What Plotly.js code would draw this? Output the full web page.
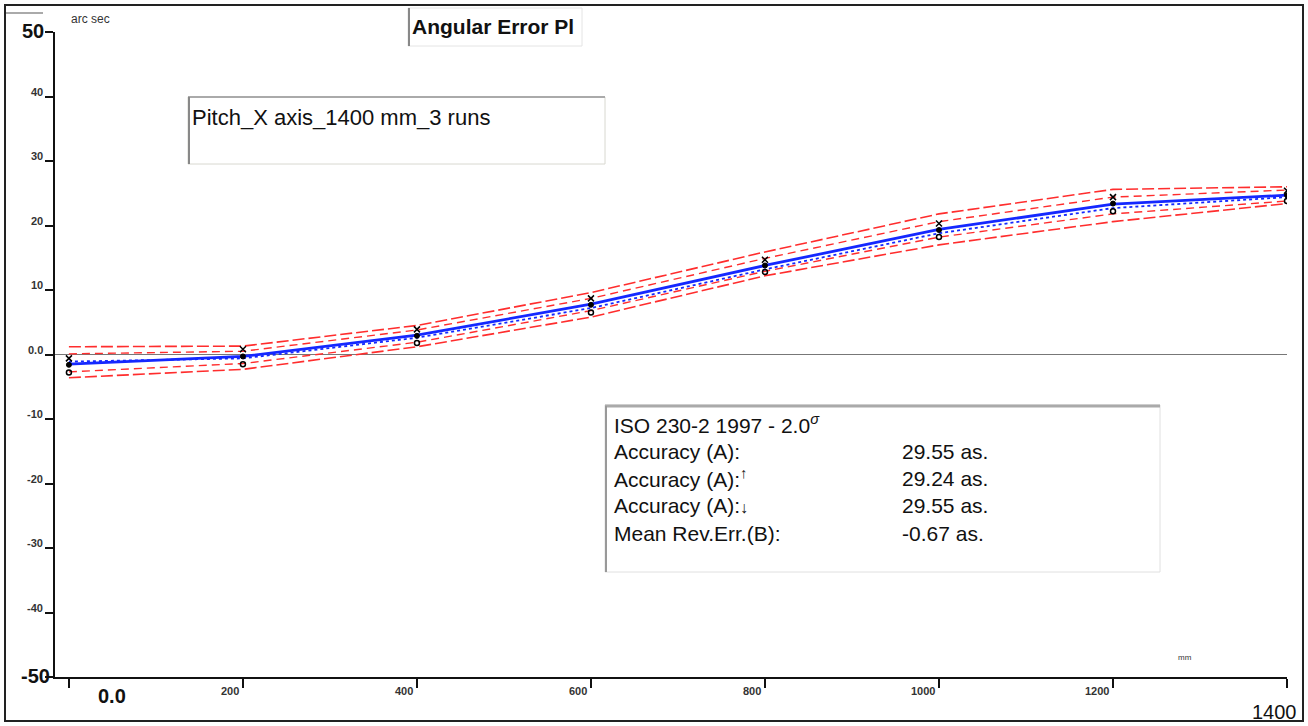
<!DOCTYPE html>
<html>
<head>
<meta charset="utf-8">
<script src="https://cdn.plot.ly/plotly-3.0.1.min.js"></script>
<style>html,body{margin:0;padding:0;background:#fff;}#chart{width:1308px;height:726px;}</style>
</head>
<body>
<div id="chart"></div>
<script>
// ---- data (target positions in mm, errors in arc sec) ----
const positions   = [0, 200, 400, 600, 800, 1000, 1200, 1400];
const meanFwd     = [-1.5, -0.3, 3.0, 7.8, 13.8, 19.4, 23.3, 24.7];
const meanRev     = [-1.1, -0.6, 2.6, 7.2, 13.2, 18.8, 22.7, 24.4];
const upperOuter  = [1.2, 1.3, 4.5, 9.6, 15.9, 21.8, 25.6, 26.0];
const upperInner  = [0.1, 0.5, 3.8, 8.7, 14.9, 20.6, 24.4, 25.5];
const lowerInner  = [-2.7, -1.4, 1.9, 6.8, 12.9, 18.2, 21.8, 23.8];
const lowerOuter  = [-3.6, -2.3, 1.2, 5.8, 12.2, 17.0, 20.6, 23.4];
const run1        = [-0.6, 0.8, 3.9, 8.7, 14.7, 20.3, 24.4, 25.4];
const run2        = [-1.6, -0.3, 2.9, 7.7, 13.8, 19.3, 23.4, 24.7];
const run3        = [-2.8, -1.5, 1.8, 6.5, 12.8, 18.2, 22.2, 23.8];

const xTickVals   = [0, 200, 400, 600, 800, 1000, 1200, 1400];
const xTickText   = ['0.0', '200', '400', '600', '800', '1000', '1200', '1400'];
const yTickVals   = [50, 40, 30, 20, 10, 0, -10, -20, -30, -40, -50];
const yTickText   = ['50', '40', '30', '20', '10', '0.0', '-10', '-20', '-30', '-40', '-50'];

const titleText   = 'Angular Error Pl';
const legendText  = 'Pitch_X axis_1400 mm_3 runs';
const statLabels  = ['ISO 230-2 1997 - 2.0<i><sup>σ</sup></i>', 'Accuracy (A):', 'Accuracy (A):<sup>↑</sup>', 'Accuracy (A):<span style="font-size:16px">↓</span>', 'Mean Rev.Err.(B):'];
const statValues  = ['', '29.55 as.', '29.24 as.', '29.55 as.', '-0.67 as.'];

// ---- layout geometry helpers (pixel -> paper) ----
const W = 1308, H = 726;
const M = {l: 55, r: 21, t: 32, b: 49};
const PW = W - M.l - M.r, PH = H - M.t - M.b;
const px = v => (v - M.l) / PW;
const py = v => (H - M.b - v) / PH;

const FONT = '"Liberation Sans", Arial, sans-serif';
const NARROW = '"Liberation Sans Narrow", "Liberation Sans", Arial, sans-serif';
const RED = 'rgb(255,45,45)';
const BLUE = 'rgb(20,40,255)';

const traces = [
  {x: positions, y: upperOuter, mode: 'lines', line: {color: RED, width: 1.6, dash: '12px,4px'}, hoverinfo: 'skip'},
  {x: positions, y: upperInner, mode: 'lines', line: {color: RED, width: 1.4, dash: '8px,5px'}, hoverinfo: 'skip'},
  {x: positions, y: lowerInner, mode: 'lines', line: {color: RED, width: 1.4, dash: '8px,5px'}, hoverinfo: 'skip'},
  {x: positions, y: lowerOuter, mode: 'lines', line: {color: RED, width: 1.6, dash: '12px,4px'}, hoverinfo: 'skip'},
  {x: positions, y: meanRev, mode: 'lines', line: {color: BLUE, width: 1.8, dash: '3px,3px'}, hoverinfo: 'skip'},
  {x: positions, y: meanFwd, mode: 'lines', line: {color: BLUE, width: 2.8}, hoverinfo: 'skip'},
  {x: positions, y: run1, mode: 'markers', marker: {color: '#000', size: 6, symbol: 'x-thin-open', line: {width: 1.5, color: '#000'}}, hoverinfo: 'skip'},
  {x: positions, y: run2, mode: 'markers', marker: {color: '#000', size: 5, symbol: 'circle', line: {width: 1, color: '#000'}}, hoverinfo: 'skip'},
  {x: positions, y: run3, mode: 'markers', marker: {color: '#000', size: 5, symbol: 'circle-open', line: {width: 1.5, color: '#000'}}, hoverinfo: 'skip'}
];

const annotations = [];
// y tick labels
yTickVals.forEach((v, i) => {
  const big = (i === 0 || i === yTickVals.length - 1);
  annotations.push({
    xref: 'paper', yref: 'y', x: 0, y: v, text: big ? '<b>' + yTickText[i] + '</b>' : '<b>' + yTickText[i] + '</b>', showarrow: false,
    xanchor: 'right', yanchor: 'middle', xshift: big ? (i === 0 ? -9 : -3) : -10, yshift: big ? 1 : 5,
    font: {family: big ? FONT : NARROW, size: big ? 20 : 11, color: big ? '#111' : '#333'}
  });
});
// x tick labels
xTickVals.forEach((v, i) => {
  if (i === 0) {
    annotations.push({xref: 'x', yref: 'paper', x: v, y: 0, text: '<b>' + xTickText[i] + '</b>', showarrow: false,
      xanchor: 'center', yanchor: 'top', xshift: 43, yshift: -6, font: {family: FONT, size: 20, color: '#111'}});
  } else if (i === xTickVals.length - 1) {
    annotations.push({xref: 'x', yref: 'paper', x: v, y: 0, text: xTickText[i], showarrow: false,
      xanchor: 'right', yanchor: 'top', xshift: 12, yshift: -22, font: {family: FONT, size: 20, color: '#111'}});
  } else {
    annotations.push({xref: 'x', yref: 'paper', x: v, y: 0, text: '<b>' + xTickText[i] + '</b>', showarrow: false,
      xanchor: 'right', yanchor: 'top', xshift: -2, yshift: -6, font: {family: NARROW, size: 11, color: '#333'}});
  }
});
// unit labels
annotations.push({xref: 'paper', yref: 'paper', x: px(69), y: py(19), text: 'arc sec', showarrow: false,
  xanchor: 'left', yanchor: 'middle', font: {family: NARROW, size: 12, color: '#333'}});
annotations.push({xref: 'paper', yref: 'paper', x: px(1176), y: py(657), text: 'mm', showarrow: false,
  xanchor: 'left', yanchor: 'middle', font: {family: NARROW, size: 8, color: '#333'}});
// title box text
annotations.push({xref: 'paper', yref: 'paper', x: px(410), y: py(27), text: '<b>' + titleText + '</b>', showarrow: false,
  xanchor: 'left', yanchor: 'middle', font: {family: FONT, size: 21, color: '#111'}});
// legend box text
annotations.push({xref: 'paper', yref: 'paper', x: px(190), y: py(117), text: legendText, showarrow: false,
  xanchor: 'left', yanchor: 'middle', font: {family: FONT, size: 22, color: '#111'}});
// stats box text
const rowY = [424, 451, 478, 505, 533];
statLabels.forEach((t, i) => {
  annotations.push({xref: 'paper', yref: 'paper', x: px(612), y: py(rowY[i]), text: t, showarrow: false,
    xanchor: 'left', yanchor: 'middle', font: {family: FONT, size: 21, color: '#111'}});
  if (statValues[i]) {
    annotations.push({xref: 'paper', yref: 'paper', x: px(900), y: py(rowY[i]), text: statValues[i], showarrow: false,
      xanchor: 'left', yanchor: 'middle', font: {family: FONT, size: 21, color: '#111'}});
  }
});

const rect = (x0, y0, x1, y1, color, width, fill) => ({type: 'rect', xref: 'paper', yref: 'paper',
  x0: px(x0), x1: px(x1), y0: py(y0), y1: py(y1), line: {color: color, width: width}, fillcolor: fill || 'rgba(0,0,0,0)', layer: 'above'});
const seg = (x0, y0, x1, y1, color, width) => ({type: 'line', xref: 'paper', yref: 'paper',
  x0: px(x0), x1: px(x1), y0: py(y0), y1: py(y1), line: {color: color, width: width}, layer: 'above'});

const shapes = [
  // outer frame
  rect(5, 5, 1303, 721, '#222', 2),
  // "50" label box
  seg(6, 13, 43, 13, '#aaa', 2),
  // title box
  rect(408, 8, 582, 46, '#e4e4e4', 1, '#fff'),
  seg(409, 8, 409, 46, '#888', 2),
  // legend box
  rect(188, 97, 605, 164, '#d8d8d0', 1, '#fff'),
  seg(188, 97, 605, 97, '#aaa', 2),
  seg(189, 97, 189, 164, '#888', 2),
  // stats box
  rect(605, 405, 1160, 572, '#e0e0e0', 1, '#fff'),
  seg(605, 406, 1160, 406, '#aaa', 3),
  seg(606, 406, 606, 572, '#999', 2)
];

const layout = {
  width: W, height: H,
  margin: M,
  paper_bgcolor: '#fff', plot_bgcolor: '#fff',
  showlegend: false,
  xaxis: {range: [-16, 1400], showgrid: false, zeroline: false, showline: true, linecolor: '#111', linewidth: 2,
    ticks: 'outside', ticklen: 9, tickwidth: 1.5, tickcolor: '#111', tickvals: xTickVals, showticklabels: false, fixedrange: true},
  yaxis: {range: [-50, 50], showgrid: false, zeroline: true, zerolinecolor: '#777', zerolinewidth: 1.6,
    showline: true, linecolor: '#111', linewidth: 2,
    ticks: 'outside', ticklen: 8, tickwidth: 2, tickcolor: '#111', tickvals: yTickVals, showticklabels: false, fixedrange: true},
  annotations: annotations,
  shapes: shapes
};

Plotly.newPlot('chart', traces, layout, {displayModeBar: false, staticPlot: true});
</script>
</body>
</html>
